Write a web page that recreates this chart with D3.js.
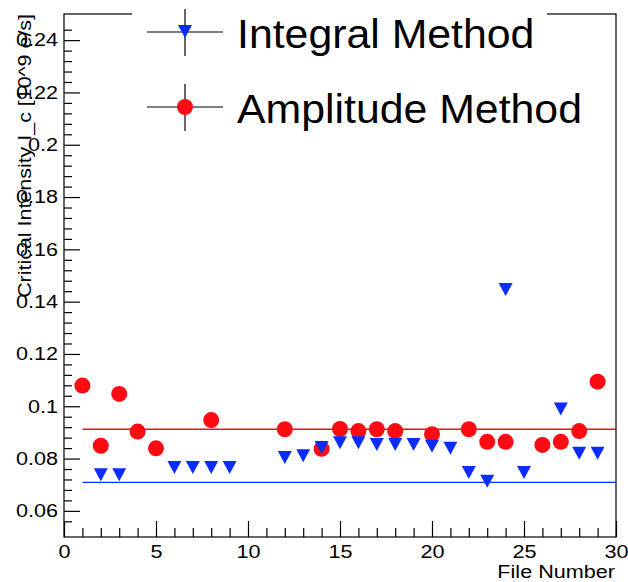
<!DOCTYPE html>
<html>
<head>
  <meta charset='utf-8' />
  <title>Critical Intensity</title>
  <style>
    html, body {
      margin: 0; padding: 0;
      background: #fff;
    }

    svg text {
      font-family: 'Liberation Sans', Arial, Helvetica, sans-serif;
      fill: #000;
    }
  </style>
</head>
<body>

<svg id='chart' width='628' height='582'></svg>

<script src="https://cdn.jsdelivr.net/npm/d3@7"></script>
<script>
  // values, one entry per file
  const integralFiles = [2, 3, 6, 7, 8, 9, 12, 13, 14, 15, 16, 17, 18, 19, 20, 21, 22, 23, 24, 25, 27, 28, 29]
  const integralValues = [0.0740, 0.0740, 0.0768, 0.0768, 0.0768, 0.0768, 0.0806, 0.0813, 0.0844, 0.0862, 0.0862, 0.0856,
    0.0856, 0.0856, 0.0849, 0.0841, 0.0749, 0.0715, 0.1448, 0.0749, 0.0991, 0.0822, 0.0822]

  const amplitudeFiles = [1, 2, 3, 4, 5, 8, 12, 14, 15, 16, 17, 18, 20, 22, 23, 24, 26, 27, 28, 29]
  const amplitudeValues = [0.1079, 0.0849, 0.1047, 0.0903, 0.0839, 0.0947, 0.0912, 0.0837, 0.0913, 0.0905, 0.0912, 0.0905,
    0.0893, 0.0912, 0.0864, 0.0864, 0.0852, 0.0864, 0.0905, 0.1094]

  // constant fits, drawn from file 1 to the frame edge
  const integralFit = 0.0709
  const amplitudeFit = 0.0912
  const fitRange = [1, 30]

  const xMajorTicks = [0, 5, 10, 15, 20, 25, 30]
  const yMajorTicks = [0.06, 0.08, 0.1, 0.12, 0.14, 0.16, 0.18, 0.2, 0.22, 0.24]
  const seriesNames = ['Integral Method', 'Amplitude Method']
  const xTitle = 'File Number'
  const yTitle = 'Critical Intensity I_c [10^9 e/s]'

  const blue = '#0a2cff'
  const red = '#ff0a12'

  const frame = { left: 64, right: 616, top: 14, bottom: 537 }

  const x = d3.scaleLinear().domain([0, 30]).range([frame.left, frame.right])
  const y = d3.scaleLinear().domain([0.05, 0.25]).range([frame.bottom, frame.top])

  const svg = d3.select('#chart')

  // stretch text sideways a bit, root fonts come out wider than liberation
  const stretch = (sel, k) => sel.each(function () {
    const w = this.getComputedTextLength()
    d3.select(this).attr('textLength', w * k).attr('lengthAdjust', 'spacingAndGlyphs')
  })

  const xMinor = d3.range(1, 30).filter(n => n % 5 !== 0)
  const yMinor = d3.range(14, 62).filter(i => i % 5 !== 0).map(i => +(i * 0.004).toFixed(3))

  // minor ticks first, then major ticks with labels
  svg.append('g')
    .attr('transform', `translate(0,${frame.bottom})`)
    .call(d3.axisBottom(x).tickValues(xMinor).tickSize(-9).tickFormat(''))
  svg.append('g')
    .attr('transform', `translate(${frame.left},0)`)
    .call(d3.axisLeft(y).tickValues(yMinor).tickSize(-8).tickFormat(''))

  const xAxis = svg.append('g')
    .attr('class', 'x-axis')
    .attr('transform', `translate(0,${frame.bottom})`)
    .call(d3.axisBottom(x).tickValues(xMajorTicks).tickSize(-16).tickPadding(8).tickFormat(d => d))

  const yAxis = svg.append('g')
    .attr('class', 'y-axis')
    .attr('transform', `translate(${frame.left},0)`)
    .call(d3.axisLeft(y).tickValues(yMajorTicks).tickSize(-16).tickPadding(6).tickFormat(d => String(+d.toFixed(2))))

  svg.selectAll('.domain').remove()
  svg.selectAll('.tick line').attr('stroke', '#000').attr('stroke-width', 1.2)
  svg.selectAll('.x-axis text, .y-axis text')
    .attr('font-family', null)
    .style('font-size', '18px')
    .call(stretch, 1.2)

  // fit lines
  const fits = [{ v: integralFit, c: blue }, { v: amplitudeFit, c: red }]
  svg.selectAll('.fit-line')
    .data(fits)
    .enter()
    .append('line')
    .attr('class', 'fit-line')
    .attr('x1', x(fitRange[0]))
    .attr('x2', x(fitRange[1]))
    .attr('y1', d => y(d.v))
    .attr('y2', d => y(d.v))
    .attr('stroke', d => d.c)
    .attr('stroke-width', 1.4)

  // amplitude points (red circles), integral drawn over them
  svg.selectAll('.amp')
    .data(amplitudeFiles.map((f, i) => ({ f, v: amplitudeValues[i] })))
    .enter()
    .append('circle')
    .attr('class', 'amp')
    .attr('cx', d => x(d.f))
    .attr('cy', d => y(d.v))
    .attr('r', 8)
    .attr('fill', red)

  const triangle = (cx, cy) => `M${cx - 7},${cy - 6}L${cx + 7},${cy - 6}L${cx},${cy + 7}Z`

  svg.selectAll('.int')
    .data(integralFiles.map((f, i) => ({ f, v: integralValues[i] })))
    .enter()
    .append('path')
    .attr('class', 'int')
    .attr('d', d => triangle(x(d.f), y(d.v)))
    .attr('fill', blue)

  // frame
  svg.append('rect')
    .attr('x', frame.left)
    .attr('y', frame.top)
    .attr('width', frame.right - frame.left)
    .attr('height', frame.bottom - frame.top)
    .attr('fill', 'none')
    .attr('stroke', '#000')
    .attr('stroke-width', 1.2)

  // axis titles
  svg.append('text')
    .attr('x', frame.right - 1)
    .attr('y', 578)
    .attr('text-anchor', 'end')
    .style('font-size', '18px')
    .text(xTitle)
    .call(stretch, 1.2)

  svg.append('text')
    .attr('transform', `translate(31,${frame.top}) rotate(-90)`)
    .attr('text-anchor', 'end')
    .style('font-size', '18px')
    .text(yTitle)
    .call(stretch, 1.19)

  // legend, white box sits over the top frame line
  const legend = svg.append('g')
  legend.append('rect')
    .attr('x', 132).attr('y', 0)
    .attr('width', 415).attr('height', 138)
    .attr('fill', '#fff')

  const entries = legend.selectAll('.entry')
    .data(seriesNames)
    .enter()
    .append('g')
    .attr('class', 'entry')
    .attr('transform', (d, i) => `translate(185,${i === 0 ? 32 : 107})`)

  entries.append('line')
    .attr('x1', -38).attr('x2', 38)
    .attr('stroke', '#000').attr('stroke-width', 1.2)
  entries.append('line')
    .attr('y1', -23).attr('y2', 24)
    .attr('stroke', '#000').attr('stroke-width', 1.2)

  entries.filter((d, i) => i === 0).append('path')
    .attr('d', triangle(0, -1))
    .attr('fill', blue)
  entries.filter((d, i) => i === 1).append('circle')
    .attr('r', 8)
    .attr('fill', red)

  entries.append('text')
    .attr('x', 52)
    .attr('y', 15.5)
    .style('font-size', '40px')
    .text(d => d)
    .call(stretch, 1.07)
</script>
</body>
</html>
